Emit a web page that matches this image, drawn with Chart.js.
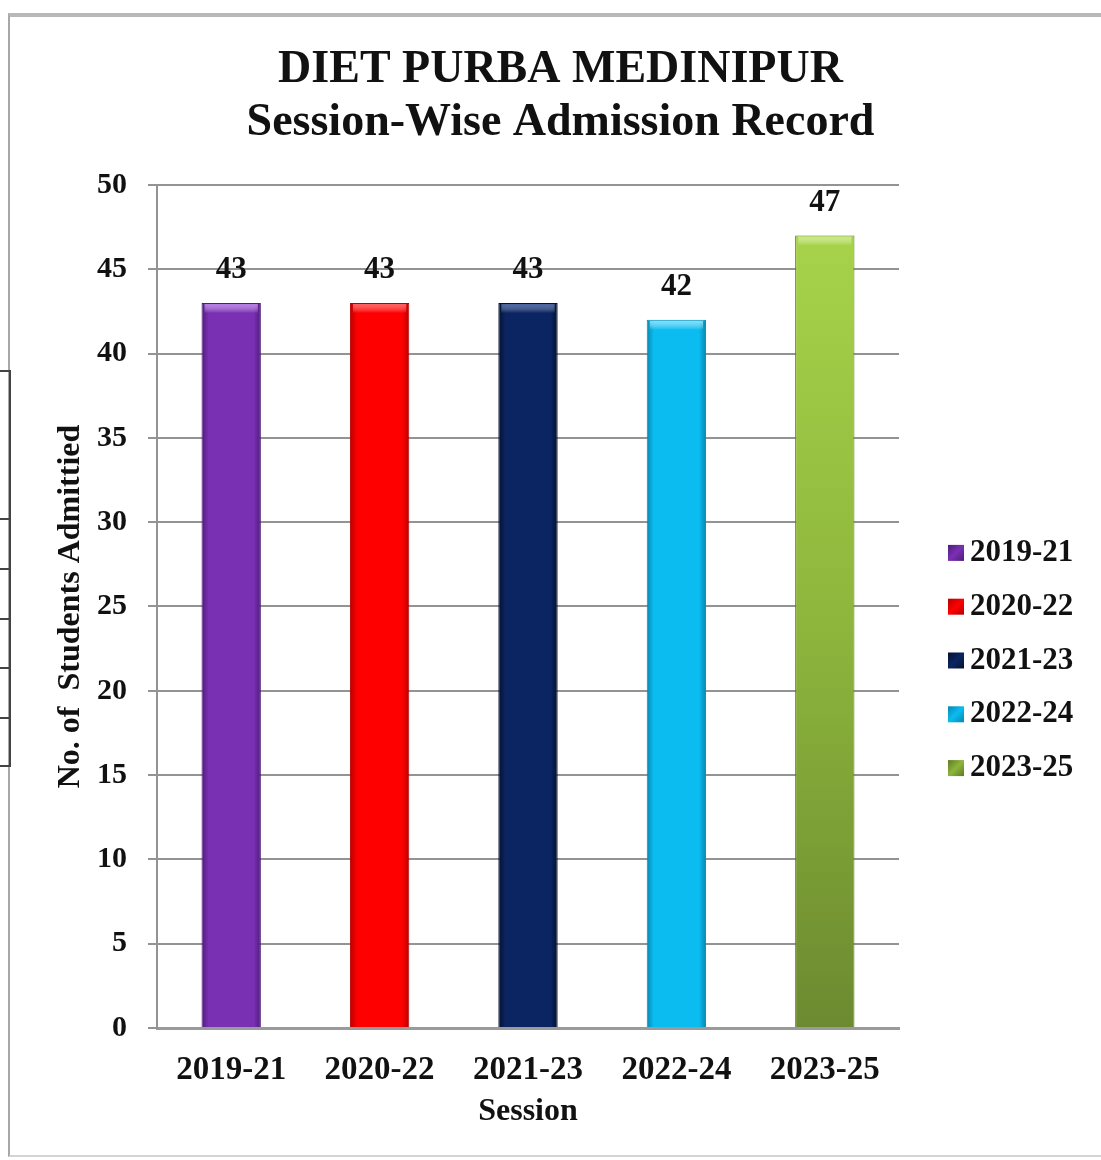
<!DOCTYPE html>
<html><head><meta charset="utf-8">
<script src="https://cdn.jsdelivr.net/npm/chart.js@4.4.1/dist/chart.umd.min.js"></script>
<style>
html,body{margin:0;padding:0;background:#fff;width:1101px;height:1160px;overflow:hidden;position:relative}
#frame{position:absolute;left:8px;top:13px;width:1110px;height:1138px;border-left:2px solid #a8a8a8;border-top:4px solid #b8b8b8;border-bottom:2px solid #d4d4d4}
#side{position:absolute;left:-2px;top:370px;width:9px;height:393px;border:2px solid #444}
#side div{position:absolute;left:0;width:9px;border-top:2px solid #444}
canvas{position:absolute;left:0;top:0}
</style></head><body>
<div id="frame"></div>
<div id="side"><div style="top:146px"></div><div style="top:196px"></div><div style="top:246px"></div><div style="top:295px"></div><div style="top:345px"></div></div>
<canvas id="c" width="1101" height="1160"></canvas>
<script>
const titleLines = ['DIET PURBA MEDINIPUR', 'Session-Wise Admission Record'];
const sessions = ['2019-21', '2020-22', '2021-23', '2022-24', '2023-25'];
const admitted = [43, 43, 43, 42, 47];
const xTitle = 'Session';
const yTitle = 'No. of  Students Admittied';
const barColors = ['#7a30b3', '#ff0000', '#0b2462', '#0bbcf0', '#8db53c'];
const edgeColors = ['#4f1b7a', '#b80000', '#04122f', '#0787b0', '#5e7a24'];
const topColors = ['rgba(190,130,240,0.9)', 'rgba(255,120,120,0.8)', 'rgba(80,110,180,0.8)', 'rgba(140,230,255,0.9)', 'rgba(205,235,120,0.9)'];

const FONT = "'Liberation Serif', 'Times New Roman', serif";

function barFill(ctx) {
  const chart = ctx.chart;
  const i = ctx.dataIndex;
  const area = chart.chartArea;
  const xs = chart.scales.x, ys = chart.scales.y;
  if (!area || !xs || !ys || i === undefined) return barColors[i] || '#888';
  const c = chart.ctx;
  const cx = xs.getPixelForValue(i);
  const w = (area.right - area.left) / sessions.length * 0.4;
  if (i === 4) {
    const top = ys.getPixelForValue(admitted[i]);
    const g = c.createLinearGradient(0, top, 0, area.bottom);
    g.addColorStop(0, '#a6d34a');
    g.addColorStop(0.5, '#8db53c');
    g.addColorStop(1, '#6c8a30');
    return g;
  }
  const g = c.createLinearGradient(cx - w / 2, 0, cx + w / 2, 0);
  g.addColorStop(0, edgeColors[i]);
  g.addColorStop(0.12, barColors[i]);
  g.addColorStop(0.88, barColors[i]);
  g.addColorStop(1, edgeColors[i]);
  return g;
}

const valueLabels = {
  id: 'valueLabels',
  afterDatasetsDraw(chart) {
    const ctx = chart.ctx;
    const meta = chart.getDatasetMeta(0);
    ctx.save();
    meta.data.forEach((bar, i) => {
      const w = bar.width;
      const x0 = bar.x - w / 2;
      const g = ctx.createLinearGradient(0, bar.y, 0, bar.y + 10);
      g.addColorStop(0, topColors[i]);
      g.addColorStop(1, 'rgba(255,255,255,0)');
      ctx.fillStyle = g;
      ctx.fillRect(x0 + 3, bar.y + 1, w - 6, 10);
    });
    ctx.font = 'bold 31px ' + FONT;
    ctx.fillStyle = '#111';
    ctx.textAlign = 'center';
    ctx.textBaseline = 'middle';
    meta.data.forEach((bar, i) => ctx.fillText(String(admitted[i]), bar.x, bar.y - 33));
    ctx.restore();
  }
};

const sideLegend = {
  id: 'sideLegend',
  afterDraw(chart) {
    const ctx = chart.ctx;
    const a = chart.chartArea;
    const x0 = a.right + 49;
    const mid = (a.top + a.bottom) / 2 + 54;
    ctx.save();
    ctx.font = 'bold 31px ' + FONT;
    ctx.textAlign = 'left';
    ctx.textBaseline = 'middle';
    sessions.forEach((s, i) => {
      const y = mid + (i - 2) * 53.8;
      const g = ctx.createLinearGradient(x0, y - 8, x0 + 16, y + 8);
      g.addColorStop(0, edgeColors[i]);
      g.addColorStop(0.5, barColors[i]);
      g.addColorStop(1, edgeColors[i]);
      ctx.fillStyle = g;
      ctx.fillRect(x0, y - 8, 16, 16);
      ctx.fillStyle = '#111';
      ctx.fillText(s, x0 + 22, y);
    });
    ctx.restore();
  }
};

new Chart(document.getElementById('c'), {
  type: 'bar',
  data: {
    labels: sessions,
    datasets: [{
      data: admitted,
      yAxisID: 'y',
      backgroundColor: barFill,
      borderColor: edgeColors,
      borderWidth: 1,
      barPercentage: 0.4,
      categoryPercentage: 1
    }]
  },
  options: {
    responsive: false,
    animation: false,
    devicePixelRatio: 1,
    layout: { padding: { left: 20, right: 0, top: 0, bottom: 28.8 } },
    plugins: {
      legend: { display: false },
      tooltip: { enabled: false },
      title: {
        display: true,
        text: titleLines,
        color: '#111',
        font: { family: FONT, size: 46, weight: 'bold', lineHeight: 1.165 },
        padding: { top: 43.2, bottom: 34.6 }
      }
    },
    scales: {
      x: {
        grid: { display: false },
        border: { display: true, color: '#9a9a9a', width: 3 },
        ticks: { color: '#111', font: { family: FONT, size: 33, weight: 'bold' }, padding: 15 },
        title: { display: true, text: xTitle, color: '#111', font: { family: FONT, size: 32, weight: 'bold' }, padding: { top: 0, bottom: 0 } },
        afterFit(s) { s.height = 103.2; }
      },
      y: {
        min: 0, max: 50,
        ticks: { stepSize: 5, color: '#111', font: { family: FONT, size: 30, weight: 'bold' }, padding: 21 },
        grid: { color: '#939393', lineWidth: 2, drawTicks: true, tickLength: 9 },
        border: { display: true, color: '#939393', width: 2 },
        title: { display: true, text: yTitle, color: '#111', font: { family: FONT, size: 32, weight: 'bold' }, padding: { top: 32, bottom: 0 } },
        afterFit(s) { s.width = 137; }
      },
      yR: {
        type: 'linear',
        position: 'right',
        display: true,
        grid: { display: false },
        border: { display: false },
        ticks: { display: false },
        afterFit(s) { s.width = 202; }
      }
    }
  },
  plugins: [valueLabels, sideLegend]
});
</script>
</body></html>
